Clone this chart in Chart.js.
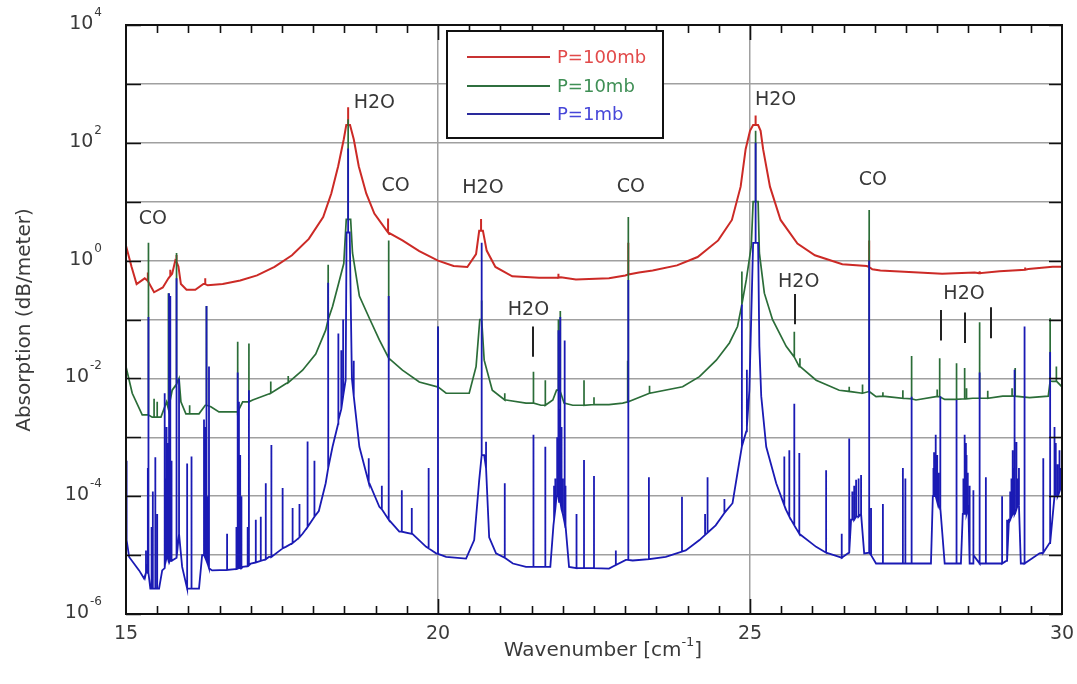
<!DOCTYPE html>
<html>
<head>
<meta charset="utf-8">
<title>Absorption spectrum</title>
<script src="https://cdn.jsdelivr.net/npm/chart.js@4.4.0/dist/chart.umd.min.js"></script>
<style>
  html, body { margin: 0; padding: 0; background: #fff; }
  #wrap { width: 1077px; height: 684px; }
</style>
</head>
<body>
<div id="wrap"><canvas id="spectrum" width="1077" height="684"></canvas></div>
<script>
// ============================================
// Spectrum data (wavenumber cm-1, absorption dB/m)
// base = continuum points, lines = [x, foot, peak]
// ============================================
const redBase = [
    [15.0,1.78],[15.09,0.78],[15.17,0.40],[15.3,0.50],[15.45,0.29],[15.59,0.35],[15.68,0.50],[15.74,0.60],
    [15.79,1.0],[15.84,0.79],[15.88,0.40],[15.97,0.32],[16.11,0.32],[16.24,0.40],[16.31,0.38],[16.55,0.40],
    [16.83,0.46],[17.1,0.56],[17.38,0.78],[17.66,1.23],[17.93,2.34],[18.16,5.5],[18.29,13.8],[18.4,40],
    [18.49,115],[18.53,200],[18.59,200],[18.65,115],[18.73,40],[18.85,13.8],[18.98,6.3],[19.18,3.2],
    [19.43,2.2],[19.7,1.45],[20.0,1.0],[20.25,0.81],[20.47,0.78],[20.61,1.29],[20.66,3.2],[20.72,3.2],
    [20.78,1.48],[20.92,0.78],[21.19,0.54],[21.62,0.51],[21.9,0.51],[21.97,0.52],[22.21,0.48],[22.74,0.50],
    [23.0,0.56],[23.22,0.63],[23.44,0.68],[23.83,0.83],[24.16,1.15],[24.49,2.2],[24.71,4.9],[24.85,18],
    [24.93,78],[25.0,160],[25.05,200],[25.13,200],[25.17,160],[25.21,78],[25.32,18],[25.49,4.9],
    [25.76,1.95],[26.04,1.23],[26.48,0.87],[26.87,0.81],[26.96,0.71],[27.09,0.68],[27.7,0.63],[28.08,0.60],
    [28.6,0.63],[29.0,0.66],[29.46,0.72],[29.85,0.79],[30.0,0.79]
];
const redLines = [
    [15.35,0.45,0.63],[15.71,0.55,0.70],[15.81,0.95,1.25],[16.27,0.40,0.50],[18.56,200,400],[19.2,3.0,5.2],
    [20.69,3.2,5.1],[21.93,0.51,0.60],[23.05,0.58,2.0],[25.09,200,290],[26.91,0.78,2.2],[28.68,0.61,0.66],
    [29.41,0.70,0.76]
];

const greenBase = [
    [15.0,0.0158],[15.1,0.0056],[15.26,0.0024],[15.42,0.0022],[15.56,0.0022],[15.65,0.004],[15.74,0.0063],
    [15.85,0.01],[15.88,0.004],[15.96,0.0025],[16.17,0.0025],[16.27,0.0035],[16.36,0.0033],[16.49,0.0027],
    [16.76,0.0027],[16.87,0.004],[17.03,0.0043],[17.32,0.0056],[17.56,0.0081],[17.83,0.0138],[18.04,0.026],
    [18.2,0.066],[18.31,0.166],[18.41,0.42],[18.49,0.89],[18.53,5.0],[18.6,5.0],[18.63,1.35],[18.74,0.25],
    [18.9,0.105],[19.06,0.045],[19.21,0.022],[19.43,0.0138],[19.7,0.0087],[19.99,0.0072],[20.13,0.0056],
    [20.5,0.0056],[20.61,0.0158],[20.67,0.1],[20.74,0.0204],[20.87,0.0063],[21.09,0.0043],[21.41,0.0038],
    [21.65,0.0035],[21.84,0.0043],[21.9,0.0063],[22.02,0.0038],[22.16,0.0035],[22.74,0.0036],[22.96,0.0038],
    [23.12,0.0043],[23.39,0.0056],[23.92,0.0072],[24.19,0.0107],[24.46,0.0204],[24.67,0.04],[24.8,0.076],
    [24.94,0.47],[25.02,1.74],[25.05,10],[25.13,10],[25.15,1.35],[25.23,0.28],[25.36,0.1],[25.58,0.035],
    [25.71,0.023],[25.79,0.0158],[26.06,0.0093],[26.43,0.0063],[26.81,0.0056],[27.02,0.0049],[27.45,0.0046],
    [27.66,0.0043],[27.98,0.0049],[28.12,0.0044],[28.57,0.0046],[29.05,0.005],[29.48,0.0047],[29.78,0.005],
    [29.85,0.0089],[30.0,0.0072]
];
const greenLines = [
    [15.36,0.0024,2.0],[15.45,0.0022,0.0045],[15.5,0.0022,0.004],[15.68,0.003,0.28],[15.81,0.008,1.35],
    [16.02,0.0025,0.0035],[16.29,0.0035,0.17],[16.79,0.0027,0.042],[16.97,0.004,0.039],[17.32,0.0056,0.0089],
    [17.6,0.0085,0.011],[18.24,0.1,0.85],[18.56,5.0,250],[19.21,0.022,2.2],[20.0,0.0072,0.076],[20.7,0.1,0.21],
    [21.07,0.0043,0.0056],[21.53,0.0038,0.013],[21.72,0.0035,0.0093],[21.93,0.0063,0.1],[21.96,0.006,0.14],
    [22.34,0.0035,0.0093],[22.5,0.0036,0.0048],[23.04,0.004,0.02],[23.05,0.004,5.5],[23.39,0.0056,0.0075],
    [24.87,0.18,0.65],[25.09,10,160],[25.71,0.023,0.062],[25.8,0.016,0.022],[26.59,0.006,0.0072],
    [26.8,0.0056,0.0079],[26.91,0.006,7.2],[27.13,0.005,0.0058],[27.45,0.0046,0.0063],[27.59,0.0045,0.024],
    [28.0,0.0049,0.0065],[28.04,0.0049,0.022],[28.31,0.0044,0.018],[28.44,0.0045,0.015],[28.47,0.0045,0.0068],
    [28.68,0.0046,0.09],[28.81,0.0046,0.0062],[29.2,0.005,0.0068],[29.25,0.005,0.015],[29.81,0.009,0.105],
    [29.91,0.009,0.016]
];

const blueBase = [
    [15.0,4e-4],[15.01,1.8e-5],[15.05,9.3e-6],[15.21,5.5e-6],[15.29,4e-6],[15.34,6.3e-6],[15.39,2.7e-6],
    [15.53,2.7e-6],[15.58,5.5e-6],[15.66,1e-5],[15.74,8.1e-6],[15.85,2.3e-5],[15.9,6.3e-6],[15.98,2.7e-6],
    [16.17,2.7e-6],[16.22,1e-5],[16.38,5.5e-6],[16.75,5.8e-6],[16.87,6.3e-6],[17.0,7.2e-6],[17.29,9.3e-6],
    [17.56,1.38e-5],[17.83,2.3e-5],[18.09,5.6e-5],[18.2,1.66e-4],[18.31,6.9e-4],[18.41,1.95e-3],[18.52,9.3e-3],
    [18.535,3],[18.585,3],[18.62,0.01],[18.74,6.9e-4],[18.9,1.66e-4],[19.06,6.6e-5],[19.38,2.5e-5],[19.59,2.3e-5],
    [19.81,1.38e-5],[19.97,1.07e-5],[20.13,9.3e-6],[20.45,8.7e-6],[20.58,1.8e-5],[20.66,1.86e-4],[20.74,5e-4],
    [20.82,2e-5],[20.93,1.07e-5],[21.2,7.2e-6],[21.41,6.3e-6],[21.8,6.3e-6],[21.85,3.2e-5],[21.9,1e-4],
    [22.05,3.2e-5],[22.1,6.3e-6],[22.74,5.9e-6],[23.01,8.3e-6],[23.12,8.1e-6],[23.65,9.3e-6],[23.97,1.2e-5],
    [24.19,1.8e-5],[24.45,3.2e-5],[24.72,7.6e-5],[24.8,2.5e-4],[24.94,1.26e-3],[24.99,6.3e-3],[25.05,2],
    [25.13,2],[25.15,0.035],[25.18,5e-3],[25.26,6.9e-4],[25.42,1.66e-4],[25.58,5.8e-5],[25.79,2.3e-5],
    [26.06,1.38e-5],[26.43,9.3e-6],[26.57,1.07e-5],[26.62,4e-5],[26.78,5e-5],[26.83,1.07e-5],[27.02,7.2e-6],
    [27.34,7.2e-6],[27.9,7.2e-6],[27.93,1e-4],[28.05,6.3e-5],[28.12,7.2e-6],[28.38,7.2e-6],[28.41,5e-5],
    [28.5,6.3e-5],[28.58,7.2e-6],[28.94,7.2e-6],[29.1,7.9e-6],[29.15,4e-5],[29.3,7.9e-5],[29.34,7.2e-6],
    [29.64,1.07e-5],[29.8,1.6e-5],[29.88,1e-4],[30.0,1.6e-4]
];
const blueLines = [
    [15.32,5e-6,1.2e-5],[15.35,5e-6,3e-4],[15.36,5e-6,0.11],[15.41,2.7e-6,3e-5],[15.43,2.7e-6,1.2e-4],
    [15.47,2.7e-6,4.6e-4],[15.5,2.7e-6,5e-5],[15.62,6e-6,5.6e-3],[15.63,8e-6,2e-4],[15.65,9e-6,1.5e-3],
    [15.67,9e-6,8e-4],[15.69,8e-6,0.28],[15.71,8e-6,0.25],[15.73,8e-6,4e-4],[15.81,9e-6,0.5],[15.85,2.3e-5,0.01],
    [15.98,2.7e-6,3.6e-4],[16.05,2.7e-6,4.7e-4],[16.25,1e-5,2e-3],[16.27,9e-6,1.5e-3],[16.29,8e-6,0.17],
    [16.31,7e-6,1e-4],[16.33,6e-6,0.016],[16.62,5.6e-6,2.3e-5],[16.77,5.8e-6,3e-5],[16.79,5.9e-6,0.0126],
    [16.81,6e-6,0.004],[16.83,6e-6,5e-4],[16.85,6e-6,1e-4],[16.95,6.5e-6,3e-5],[16.97,6.7e-6,6.3e-3],
    [17.08,7.5e-6,4e-5],[17.16,8e-6,4.5e-5],[17.24,8.5e-6,1.66e-4],[17.33,9.3e-6,7.4e-4],[17.51,1.3e-5,1.38e-4],
    [17.67,1.6e-5,6.3e-5],[17.78,2e-5,7.4e-5],[17.91,3e-5,8.5e-4],[18.02,4.5e-5,4e-4],[18.24,3e-4,0.42],
    [18.4,1.7e-3,0.058],[18.45,3e-3,0.03],[18.48,5e-3,0.1],[18.56,3,80],[18.65,5e-3,0.02],[18.89,1.7e-4,4.4e-4],
    [19.1,6e-5,1.5e-4],[19.21,4e-5,0.25],[19.42,2.5e-5,1.26e-4],[19.58,2.3e-5,6.3e-5],[19.85,1.3e-5,3e-4],
    [20.0,1.05e-5,0.076],[20.7,5e-4,2.0],[20.77,3e-4,8.4e-4],[21.07,9e-6,1.66e-4],[21.53,6.3e-6,1.1e-3],
    [21.72,6.3e-6,6.9e-4],[21.86,4e-5,1.5e-4],[21.88,6e-5,2e-4],[21.91,1e-4,1e-3],[21.93,1e-4,0.066],
    [21.94,8e-5,3e-3],[21.96,8e-5,0.11],[21.98,6e-5,1.5e-3],[22.0,5e-5,2e-4],[22.03,3.5e-5,0.044],
    [22.04,3e-5,1.5e-4],[22.22,6e-6,5e-5],[22.34,6e-6,4.1e-4],[22.5,6e-6,2.2e-4],[22.85,6.8e-6,1.2e-5],
    [23.05,8.3e-6,0.47],[23.38,8.5e-6,2.1e-4],[23.91,1.15e-5,9.8e-5],[24.28,2.2e-5,5e-5],[24.32,2.4e-5,2.1e-4],
    [24.59,5.2e-5,9e-5],[24.87,7e-4,0.18],[24.95,1.5e-3,0.014],[25.09,2,100],[25.55,7e-5,4.7e-4],
    [25.63,4.5e-5,6e-4],[25.71,3.2e-5,3.7e-3],[25.79,2.3e-5,5.4e-4],[26.22,1.1e-5,2.75e-4],[26.47,9e-6,2.3e-5],
    [26.59,1.1e-5,9.5e-4],[26.64,4e-5,1.2e-4],[26.67,4e-5,1.5e-4],[26.7,4.5e-5,1.9e-4],[26.74,4.5e-5,2e-4],
    [26.78,5e-5,2.3e-4],[26.91,1.1e-5,1.0],[26.94,1e-5,6.3e-5],[27.13,7.2e-6,7.4e-5],[27.45,7.2e-6,3e-4],
    [27.49,7.2e-6,2e-4],[27.59,7.2e-6,4.9e-3],[27.94,1e-4,3e-4],[27.95,1e-4,5.6e-4],[27.97,1e-4,4e-4],
    [27.98,1e-4,1.1e-3],[28.0,8e-5,5e-4],[28.02,7e-5,2.5e-4],[28.05,6.3e-5,5e-3],[28.31,7.2e-6,4.3e-3],
    [28.42,5e-5,2e-4],[28.44,5e-5,1.1e-3],[28.46,5e-5,8e-4],[28.47,5e-5,5e-4],[28.49,6e-5,2.5e-4],
    [28.52,7.2e-6,1.5e-4],[28.58,1e-5,1.26e-4],[28.68,7.2e-6,0.0126],[28.78,7.2e-6,2.1e-4],[29.04,7.2e-6,1e-4],
    [29.12,8e-6,4e-5],[29.17,4e-5,1.2e-4],[29.19,4.5e-5,2e-4],[29.21,5e-5,6e-4],[29.23,5e-5,3e-4],
    [29.24,5e-5,0.014],[29.27,6e-5,8.3e-4],[29.29,7e-5,2e-4],[29.31,7e-5,3e-4],[29.4,7.2e-6,0.076],
    [29.7,1.1e-5,4.4e-4],[29.81,1.6e-5,0.028],[29.88,1e-4,1.5e-3],[29.9,1e-4,8e-4],[29.93,1e-4,3.5e-4],
    [29.96,1.2e-4,6e-4],[29.98,1.4e-4,3e-4]
];

// Axis ticks
const xGridValues = [15, 20, 25, 30];
const yDecades = [1e-6, 1e-5, 1e-4, 1e-3, 1e-2, 1e-1, 1, 10, 100, 1000, 10000];
const yLabelValues = [1e4, 1e2, 1, 1e-2, 1e-4, 1e-6];
const yLabelExps = ['4', '2', '0', '-2', '-4', '-6'];

// Molecule labels and line markers
const annotText = ['CO', 'H2O', 'CO', 'H2O', 'H2O', 'CO', 'H2O', 'CO', 'H2O', 'H2O'];
const annotX = [15.43, 18.98, 19.32, 20.72, 21.45, 23.09, 25.41, 26.97, 25.78, 28.43];
const annotY = [5.1, 468, 18.6, 17.2, 0.143, 17.8, 537, 23.5, 0.427, 0.272];
const markerX = [21.53, 25.72, 28.06, 28.44, 28.86];
const markerTop = [0.076, 0.27, 0.145, 0.131, 0.162];
const markerBottom = [0.0234, 0.083, 0.044, 0.04, 0.048];

const seriesNames = ['P=100mb', 'P=10mb', 'P=1mb'];
const lineColors = ['#cc2a26', '#2b6d38', '#1a1ab4'];
const legendLineColors = ['#c83232', '#2f6f3f', '#2a2a9c'];
const legendTextColors = ['#e24a4a', '#3f8f55', '#4646d8'];

const FONT = '"DejaVu Sans", sans-serif';

document.addEventListener('DOMContentLoaded', function() {
    drawSpectrum();
});

function buildSeries(base, lines) {
    const pts = base.map(p => ({ x: p[0], y: p[1] }));
    lines.forEach(l => {
        pts.push({ x: l[0], y: l[1] }, { x: l[0], y: l[2] }, { x: l[0], y: l[1] });
    });
    return pts.sort((a, b) => a.x - b.x);
}

// Frame, ticks, labels, legend drawn on top of the data
const framePlugin = {
    id: 'frame',
    afterDatasetsDraw(chart) {
        const ctx = chart.ctx;
        const a = chart.chartArea;
        const xs = chart.scales.x;
        const ys = chart.scales.y;
        ctx.save();

        // molecule labels
        ctx.fillStyle = '#383838';
        ctx.font = '19px ' + FONT;
        ctx.textAlign = 'center';
        ctx.textBaseline = 'middle';
        annotText.forEach((t, i) => {
            ctx.fillText(t, xs.getPixelForValue(annotX[i]), ys.getPixelForValue(annotY[i]));
        });

        // short markers under the H2O labels
        ctx.strokeStyle = '#222';
        ctx.lineWidth = 2;
        markerX.forEach((x, i) => {
            const px = Math.round(xs.getPixelForValue(x));
            ctx.beginPath();
            ctx.moveTo(px, ys.getPixelForValue(markerTop[i]));
            ctx.lineTo(px, ys.getPixelForValue(markerBottom[i]));
            ctx.stroke();
        });

        // plot frame
        ctx.strokeStyle = '#111';
        ctx.lineWidth = 2;
        ctx.strokeRect(a.left, a.top, a.right - a.left, a.bottom - a.top);

        // x ticks (inward, every 0.5)
        ctx.lineWidth = 1.6;
        for (let v = 15.5; v < 30; v += 0.5) {
            const px = Math.round(xs.getPixelForValue(v)) + 0.5;
            const len = (v % 5 === 0) ? 15 : 8;
            ctx.beginPath();
            ctx.moveTo(px, a.bottom); ctx.lineTo(px, a.bottom - len);
            ctx.moveTo(px, a.top); ctx.lineTo(px, a.top + len);
            ctx.stroke();
        }
        // y ticks at decades
        yDecades.forEach(v => {
            const py = Math.round(ys.getPixelForValue(v)) + 0.5;
            ctx.beginPath();
            ctx.moveTo(a.left, py); ctx.lineTo(a.left + 15, py);
            ctx.moveTo(a.right, py); ctx.lineTo(a.right - 13, py);
            ctx.stroke();
        });

        // x tick labels
        ctx.fillStyle = '#3a3a3a';
        ctx.font = '19px ' + FONT;
        ctx.textAlign = 'center';
        ctx.textBaseline = 'alphabetic';
        xGridValues.forEach(v => {
            ctx.fillText(String(v), xs.getPixelForValue(v), a.bottom + 25);
        });

        // y tick labels: 10 with superscript exponent
        ctx.textAlign = 'left';
        yLabelValues.forEach((v, i) => {
            const py = ys.getPixelForValue(v);
            ctx.font = '19px ' + FONT;
            const w1 = ctx.measureText('10').width;
            ctx.font = '12px ' + FONT;
            const w2 = ctx.measureText(yLabelExps[i]).width;
            const left = 102 - w1 - w2 - 1;
            ctx.font = '19px ' + FONT;
            ctx.fillText('10', left, py + 4);
            ctx.font = '12px ' + FONT;
            ctx.fillText(yLabelExps[i], left + w1 + 1, py - 9);
        });

        // x axis title with superscript
        ctx.font = '20px ' + FONT;
        const t1 = 'Wavenumber [cm';
        const w1 = ctx.measureText(t1).width;
        const w3 = ctx.measureText(']').width;
        ctx.font = '13px ' + FONT;
        const w2 = ctx.measureText('-1').width;
        let tx = 603 - (w1 + w2 + w3) / 2;
        ctx.font = '20px ' + FONT;
        ctx.fillText(t1, tx, 656);
        ctx.font = '13px ' + FONT;
        ctx.fillText('-1', tx + w1, 646);
        ctx.font = '20px ' + FONT;
        ctx.fillText(']', tx + w1 + w2, 656);

        // y axis title
        ctx.save();
        ctx.translate(25, 320);
        ctx.rotate(-Math.PI / 2);
        ctx.textAlign = 'center';
        ctx.textBaseline = 'middle';
        ctx.font = '20px ' + FONT;
        ctx.fillText('Absorption (dB/meter)', 0, 0);
        ctx.restore();

        // legend box
        ctx.fillStyle = '#fff';
        ctx.fillRect(447, 31, 216, 107);
        ctx.strokeStyle = '#111';
        ctx.lineWidth = 2;
        ctx.strokeRect(447, 31, 216, 107);
        const rows = [57, 86, 114];
        ctx.font = '18px ' + FONT;
        ctx.textAlign = 'left';
        ctx.textBaseline = 'middle';
        seriesNames.forEach((name, i) => {
            ctx.strokeStyle = legendLineColors[i];
            ctx.lineWidth = 2;
            ctx.beginPath();
            ctx.moveTo(467, rows[i]); ctx.lineTo(550, rows[i]);
            ctx.stroke();
            ctx.fillStyle = legendTextColors[i];
            ctx.fillText(name, 557, rows[i] + 1);
        });

        ctx.restore();
    }
};

function drawSpectrum() {
    const canvas = document.getElementById('spectrum');
    const sets = [
        { base: redBase, lines: redLines, order: 3, width: 2 },
        { base: greenBase, lines: greenLines, order: 2, width: 1.7 },
        { base: blueBase, lines: blueLines, order: 1, width: 1.8 }
    ];

    new Chart(canvas, {
        type: 'scatter',
        data: {
            datasets: sets.map((s, i) => ({
                label: seriesNames[i],
                data: buildSeries(s.base, s.lines),
                showLine: true,
                borderColor: lineColors[i],
                backgroundColor: lineColors[i],
                borderWidth: s.width,
                pointRadius: 0,
                tension: 0,
                order: s.order
            }))
        },
        options: {
            responsive: false,
            animation: false,
            devicePixelRatio: 1,
            layout: { padding: { left: 126, right: 15, top: 25, bottom: 70 } },
            plugins: {
                legend: { display: false },
                tooltip: { enabled: false }
            },
            scales: {
                x: {
                    type: 'linear',
                    min: 15,
                    max: 30,
                    afterBuildTicks: scale => { scale.ticks = xGridValues.map(v => ({ value: v })); },
                    ticks: { display: false },
                    grid: { color: '#a0a0a0', lineWidth: 1.5, drawTicks: false },
                    border: { display: false }
                },
                y: {
                    type: 'logarithmic',
                    min: 1e-6,
                    max: 1e4,
                    afterBuildTicks: scale => { scale.ticks = yDecades.map(v => ({ value: v })); },
                    ticks: { display: false },
                    grid: { color: '#a0a0a0', lineWidth: 1.5, drawTicks: false },
                    border: { display: false }
                }
            }
        },
        plugins: [framePlugin]
    });
}
</script>
</body>
</html>
